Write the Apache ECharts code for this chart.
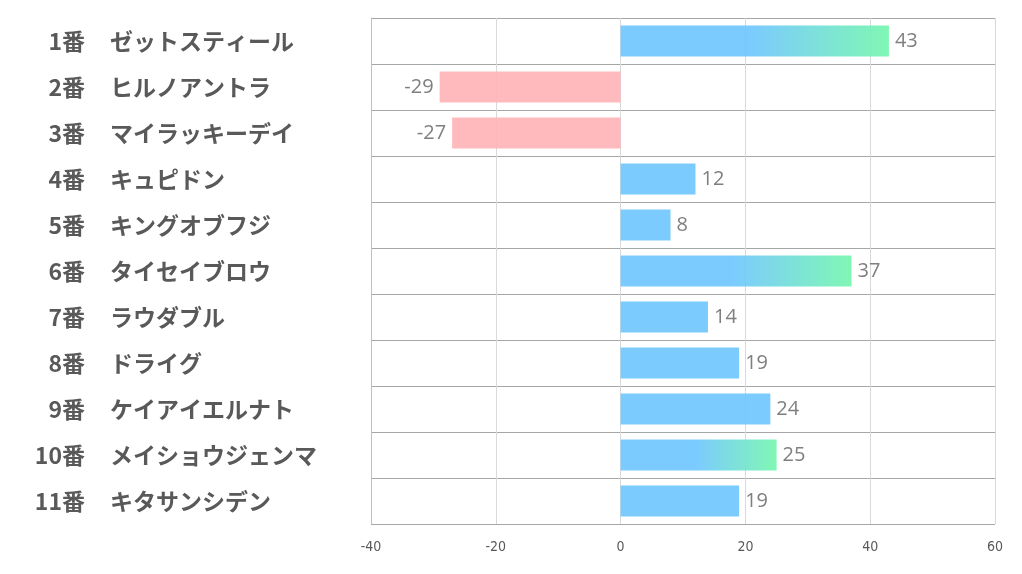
<!DOCTYPE html>
<html><head><meta charset="utf-8">
<script src="https://cdn.jsdelivr.net/npm/echarts@6/dist/echarts.min.js"></script>
<style>html,body{margin:0;padding:0;background:#fff}#c{width:1022px;height:574px}</style>
</head><body><div id="c"></div>
<script>
const numbers = ['1番','2番','3番','4番','5番','6番','7番','8番','9番','10番','11番'];
const names = ['ゼットスティール','ヒルノアントラ','マイラッキーデイ','キュピドン','キングオブフジ','タイセイブロウ','ラウダブル','ドライグ','ケイアイエルナト','メイショウジェンマ','キタサンシデン'];
const values = [43,-29,-27,12,8,37,14,19,24,25,19];
const highlighted = [true,false,false,false,false,true,false,false,false,true,false];
const xTicks = {min:-40, max:60, interval:20};

const BLUE='rgba(109,197,255,0.9)', GREEN='rgba(114,246,172,0.9)', PINK='rgba(255,179,183,0.9)';
const data = values.map((v,i)=>{
  let color;
  if (v < 0) color = PINK;
  else if (highlighted[i]) color = new echarts.graphic.LinearGradient(0,0,1,0,[{offset:0,color:BLUE},{offset:0.48,color:BLUE},{offset:1,color:GREEN}]);
  else color = BLUE;
  return {value:v, itemStyle:{color}, label:{position: v<0?'left':'right'}};
});
const labelFont = {fontSize:23,fontWeight:'bold',color:'#595959',fontFamily:'Noto Sans CJK JP'};
const chart = echarts.init(document.getElementById('c'));
chart.setOption({
  animation:false,
  grid:{left:371,right:27,top:18,bottom:50,containLabel:false},
  xAxis:{type:'value',min:xTicks.min,max:xTicks.max,interval:xTicks.interval,
    axisLine:{show:false},axisTick:{show:false},
    splitLine:{show:true,lineStyle:{color:'#d9d9d9',width:1}},
    axisLabel:{color:'#595959',fontSize:14,fontFamily:'Liberation Sans Narrow, DejaVu Sans Condensed, sans-serif',margin:16}},
  yAxis:[
    {type:'category',data:numbers,inverse:true,position:'left',
    axisLine:{show:true,onZero:false,lineStyle:{color:'#bfbfbf'}},axisTick:{show:false},
    splitLine:{show:true,interval:0,lineStyle:{color:'#a6a6a6',width:1}},
    axisLabel:Object.assign({margin:286,interval:0,align:'right'},labelFont)},
    {type:'category',data:names,inverse:true,position:'left',offset:0,
    axisLine:{show:false},axisTick:{show:false},splitLine:{show:false},
    axisLabel:Object.assign({margin:261,interval:0,align:'left'},labelFont)}
  ],
  series:[{type:'bar',data,barWidth:31,yAxisIndex:0,
    label:{show:true,distance:6,color:'#7f7f7f',fontSize:20,fontFamily:'Open Sans, sans-serif'}}]
});
</script></body></html>
